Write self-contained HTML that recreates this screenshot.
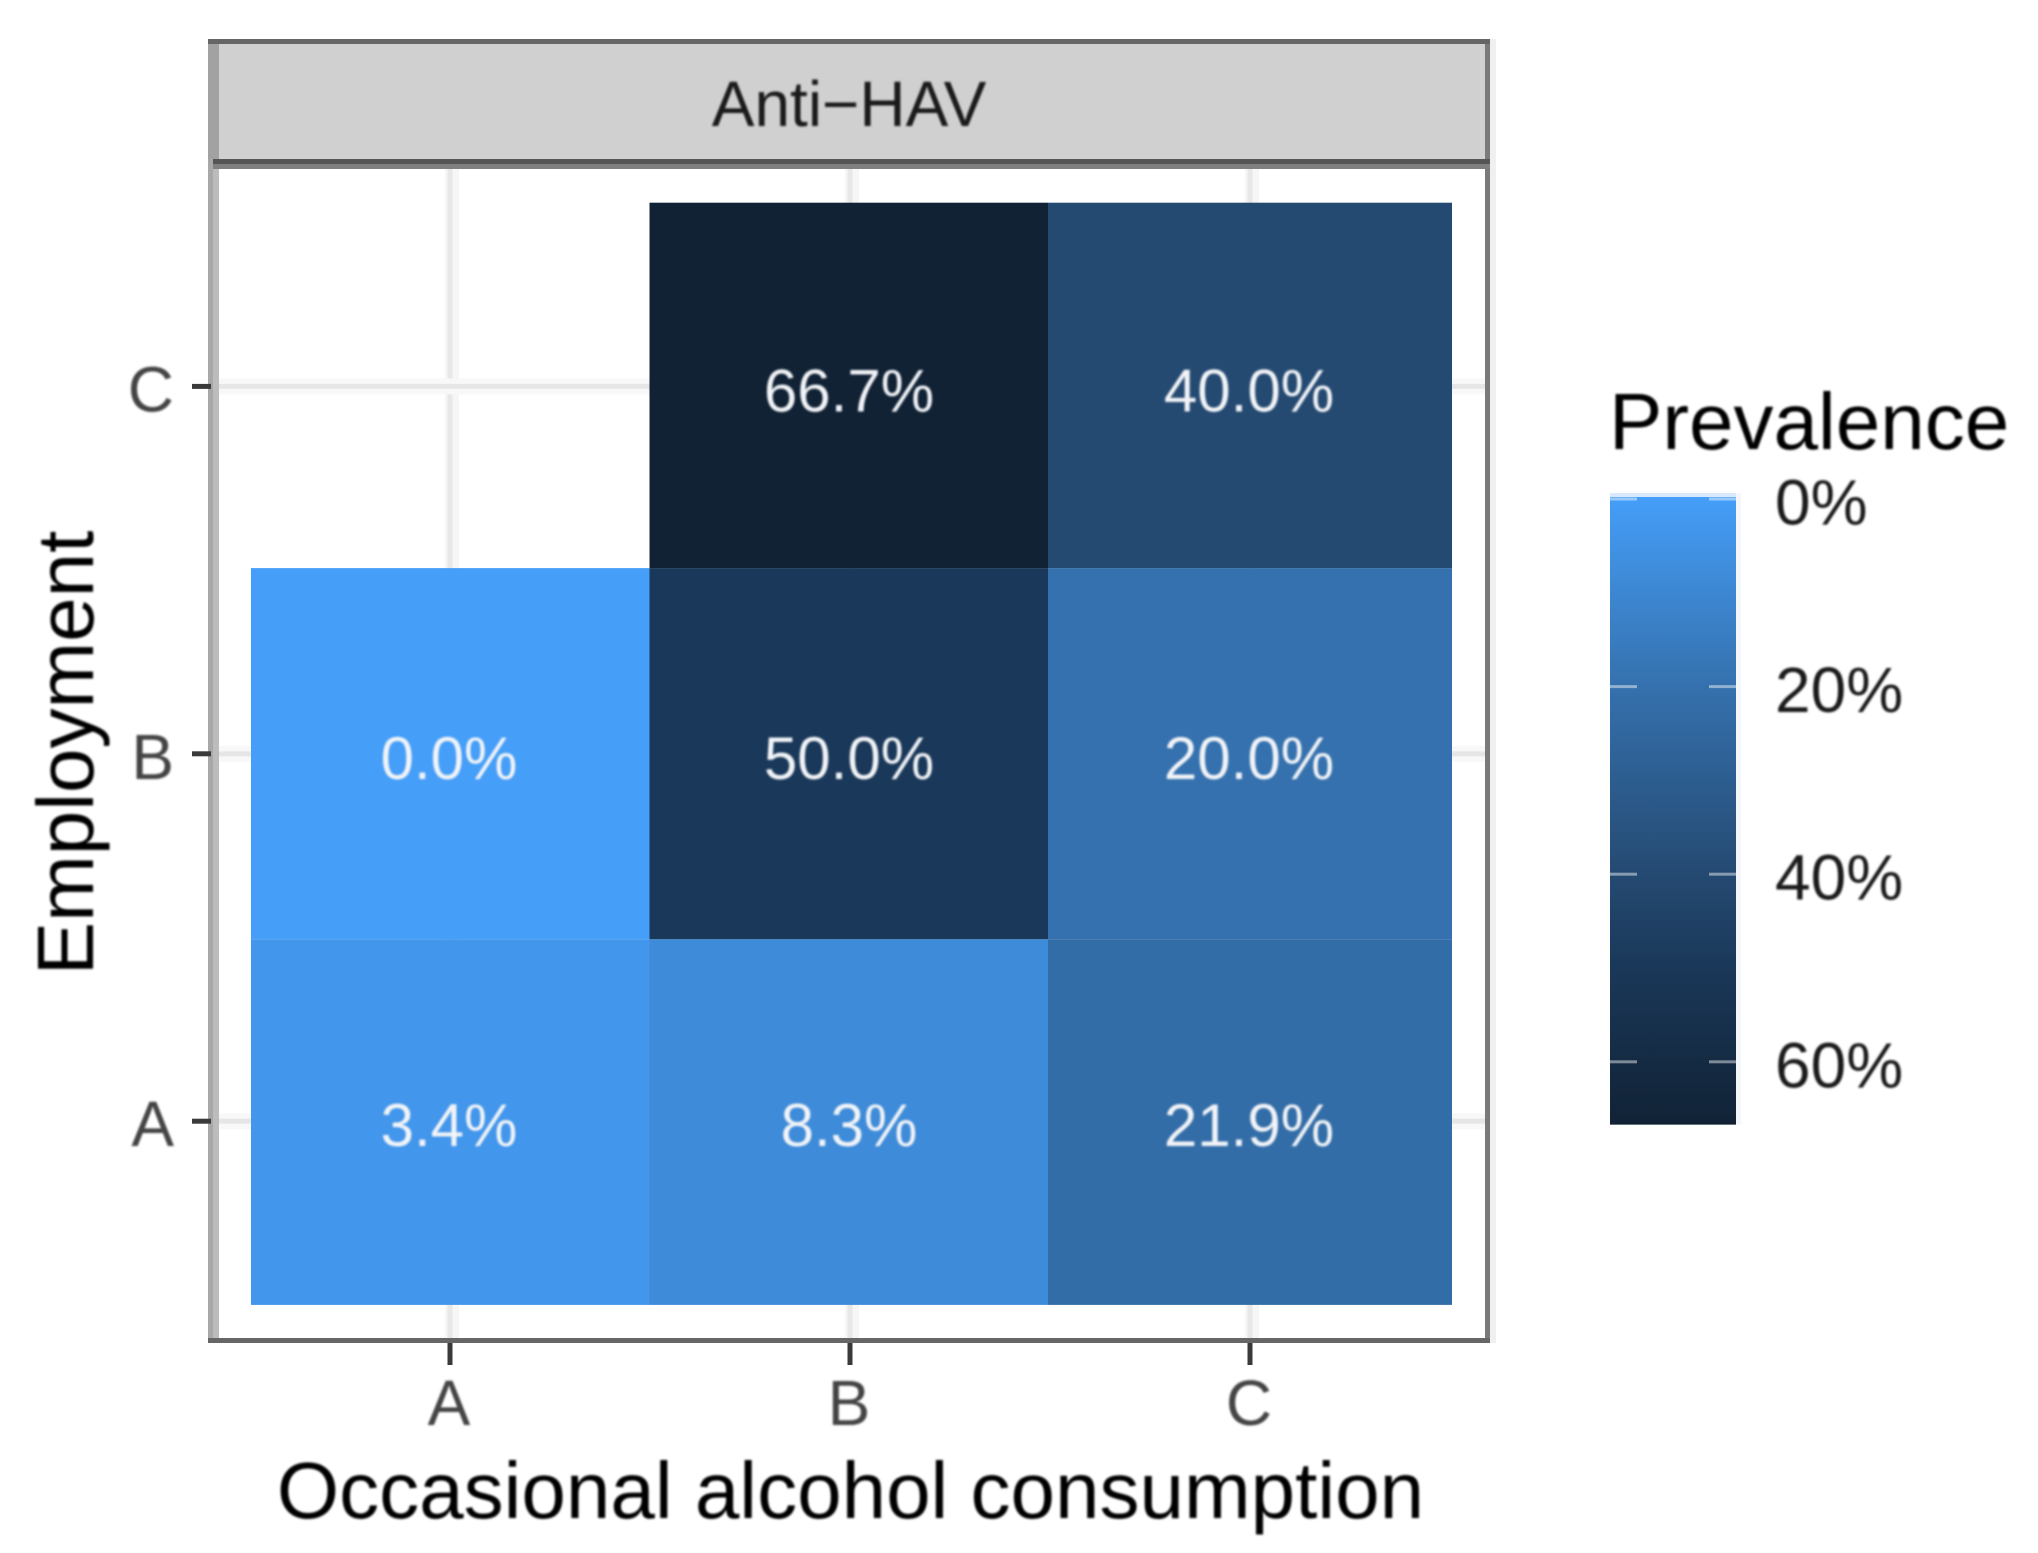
<!DOCTYPE html>
<html lang="en">
<head>
<meta charset="utf-8">
<title>Anti-HAV prevalence heatmap</title>
<style>
  html, body { margin: 0; padding: 0; background: #ffffff; }
  svg { display: block; }
  text { font-family: "Liberation Sans", Arial, sans-serif; }
  .soft { filter: blur(1px); }
</style>
</head>
<body>
<svg id="chart" xmlns="http://www.w3.org/2000/svg" width="2038" height="1553" viewBox="0 0 2038 1553">
  <defs>
    <linearGradient id="legend-gradient" x1="0" y1="0" x2="0" y2="1"></linearGradient>
  </defs>
  <rect x="0" y="0" width="2038" height="1553" fill="#ffffff"></rect>
  <g id="grid"></g>
  <g id="cells"></g>
  <g id="cell-labels" class="soft"></g>

  <rect x="208" y="44" width="1282" height="115" fill="#d0d0d0"></rect>
  <rect x="208" y="39" width="1282" height="5" fill="#666666"></rect>
  <rect x="208" y="44" width="11" height="115" fill="#a2a2a2"></rect>
  <rect x="1485" y="44" width="5" height="115" fill="#7a7a7a"></rect>
  <rect x="1490" y="39" width="6" height="130" fill="#f0f0f0"></rect>
  <rect x="213" y="159" width="1277" height="5" fill="#555555"></rect>
  <rect x="213" y="164" width="1277" height="5" fill="#808080"></rect>
  <text x="849" y="126" font-size="64" text-anchor="middle" fill="#1a1a1a" class="soft">Anti−HAV</text>

  <rect x="208" y="159" width="5" height="1184" fill="#a8a8a8"></rect>
  <rect x="213" y="169" width="6" height="1174" fill="#bcbcbc"></rect>
  <rect x="1485" y="169" width="5" height="1174" fill="#7a7a7a"></rect>
  <rect x="1490" y="169" width="6" height="1174" fill="#f0f0f0"></rect>
  <rect x="208" y="1338" width="1282" height="5" fill="#666666"></rect>

  <g id="x-axis"></g>
  <g id="y-axis"></g>

  <text x="850.5" y="1518" font-size="80" text-anchor="middle" fill="#000000" class="soft">Occasional alcohol consumption</text>
  <text transform="translate(93 753) rotate(-90)" x="0" y="0" font-size="80" text-anchor="middle" fill="#000000" class="soft">Employment</text>

  <text x="1609" y="449" font-size="80" fill="#000000" class="soft">Prevalence</text>
  <g id="legend"></g>
</svg>

<script>
// Chart data
const occasionalCategories = ['A', 'B', 'C'];
const employmentCategories = ['A', 'B', 'C'];
const prevalenceEmploymentA = [3.4, 8.3, 21.9];
const prevalenceEmploymentB = [0.0, 50.0, 20.0];
const prevalenceEmploymentC = [null, 66.7, 40.0];
const legendTickValues = [0, 20, 40, 60];
const legendTickLabels = ['0%', '20%', '40%', '60%'];
const colorDomain = [0, 20, 40, 50, 66.7];
const colorRange = ['#459ef8', '#3571ae', '#254a72', '#1a3859', '#112235'];

const SVG_NS = 'http://www.w3.org/2000/svg';

function make(tag, attrs, parent, content) {
  const el = document.createElementNS(SVG_NS, tag);
  for (const key in attrs) el.setAttribute(key, attrs[key]);
  if (content !== undefined) el.textContent = content;
  parent.appendChild(el);
  return el;
}

// Axis functions (the small edge corrections mirror the resampling of the source figure)
const nCols = occasionalCategories.length;
const nRows = employmentCategories.length;
function xCenter(i) { return 450 + i * 400; }
function yCenter(i) { return 202.7 + (nRows - 1 - i + 0.5) * 367.4; }
function xEdge(k) { return 251 + k * 398.5 + (k === nCols ? 5.5 : 0); }
function yEdge(k) { return 202.7 + k * 367.4 + (k === 1 ? -2 : 0) + (k === 2 ? 1.7 : 0); }
function legendY(v) { return 499 + v * 9.38; }

function hexToRgb(hex) {
  return [1, 3, 5].map(function (p) { return parseInt(hex.slice(p, p + 2), 16); });
}
function colorScale(v) {
  let k = 0;
  while (k < colorDomain.length - 2 && v > colorDomain[k + 1]) k++;
  const t = Math.max(0, Math.min(1, (v - colorDomain[k]) / (colorDomain[k + 1] - colorDomain[k])));
  const a = hexToRgb(colorRange[k]);
  const b = hexToRgb(colorRange[k + 1]);
  const c = a.map(function (ch, idx) { return Math.round(ch + (b[idx] - ch) * t); });
  return 'rgb(' + c.join(',') + ')';
}

const grid = document.getElementById('grid');
const cells = document.getElementById('cells');
const cellLabels = document.getElementById('cell-labels');
const xAxis = document.getElementById('x-axis');
const yAxis = document.getElementById('y-axis');
const legend = document.getElementById('legend');
const gradient = document.getElementById('legend-gradient');

// Gridlines
occasionalCategories.forEach(function (cat, i) {
  const halo = make('rect', { x: xCenter(i) - 5, y: 169, width: 14, height: 1169, fill: '#f6f6f6' }, grid);
  
  
  const line = make('rect', { x: xCenter(i) - 2.5, y: 169, width: 5, height: 1169, fill: '#e8e8e8' }, grid);
  
  
});
employmentCategories.forEach(function (cat, i) {
  const halo = make('rect', { x: 219, y: yCenter(i) - 8, width: 1266, height: 16, fill: '#f8f8f8' }, grid);
  
  
  const line = make('rect', { x: 219, y: yCenter(i) - 2.5, width: 1266, height: 5, fill: '#e6e6e6' }, grid);
  
  
});

// Heatmap cells
const prevalenceRows = [prevalenceEmploymentA, prevalenceEmploymentB, prevalenceEmploymentC];
prevalenceRows.forEach(function (row, r) {
  row.forEach(function (value, c) {
    if (value === null) return;
    const key = employmentCategories[r].toLowerCase() + '-' + occasionalCategories[c].toLowerCase();
    const k = nRows - 1 - r;
    const cell = make('rect', {
      x: xEdge(c), y: yEdge(k), width: xEdge(c + 1) - xEdge(c), height: yEdge(k + 1) - yEdge(k), fill: colorScale(value)
    }, cells);
    
    
    const label = make('text', {
      x: xCenter(c) - 1, y: yCenter(r) + 25, 'font-size': 60, 'text-anchor': 'middle', fill: '#f2f4f7'
    }, cellLabels, value.toFixed(1) + '%');
    
    
  });
});

// X axis
occasionalCategories.forEach(function (cat, i) {
  const tick = make('rect', { x: xCenter(i) - 2.5, y: 1343, width: 5, height: 22, fill: '#3a3a3a' }, xAxis);
  
  
  const label = make('text', {
    x: xCenter(i) - 1, y: 1425, 'font-size': 64, 'text-anchor': 'middle', fill: '#444444', 'class': 'soft'
  }, xAxis, cat);
  
  
});

// Y axis
employmentCategories.forEach(function (cat, i) {
  const tick = make('rect', { x: 192, y: yCenter(i) - 2.5, width: 19, height: 5, fill: '#3a3a3a' }, yAxis);
  
  
  const label = make('text', {
    x: 174, y: yCenter(i) + 25, 'font-size': 64, 'text-anchor': 'end', fill: '#444444', 'class': 'soft'
  }, yAxis, cat);
  
  
});

// Legend
const legendMax = colorDomain[colorDomain.length - 1];
colorDomain.forEach(function (v) {
  make('stop', { offset: (v / legendMax * 100) + '%', 'stop-color': colorScale(v) }, gradient);
});
const legendTop = legendY(0);
const legendBottom = legendY(legendMax);
const legendEdge = make('rect', { x: 1610, y: legendTop - 6, width: 126, height: 4, fill: '#d8e9fb' }, legend);


const legendSide = make('rect', { x: 1736, y: legendTop - 6, width: 5, height: legendBottom - legendTop + 6, fill: '#f3f6fb' }, legend);


const legendBar = make('rect', { x: 1610, y: legendTop - 2, width: 126, height: legendBottom - legendTop + 2, fill: 'url(#legend-gradient)' }, legend);



legendTickValues.forEach(function (v, i) {
  const tickLeft = make('rect', { x: 1610, y: legendY(v) - 1.5, width: 27, height: 3, fill: '#ffffff', 'fill-opacity': 0.45 }, legend);
  
  
  const tickRight = make('rect', { x: 1709, y: legendY(v) - 1.5, width: 27, height: 3, fill: '#ffffff', 'fill-opacity': 0.45 }, legend);
  
  
  const label = make('text', {
    x: 1775, y: legendY(v) + 25.5, 'font-size': 64, fill: '#1a1a1a', 'class': 'soft'
  }, legend, legendTickLabels[i]);
  
  
});
</script>
</body>
</html>
